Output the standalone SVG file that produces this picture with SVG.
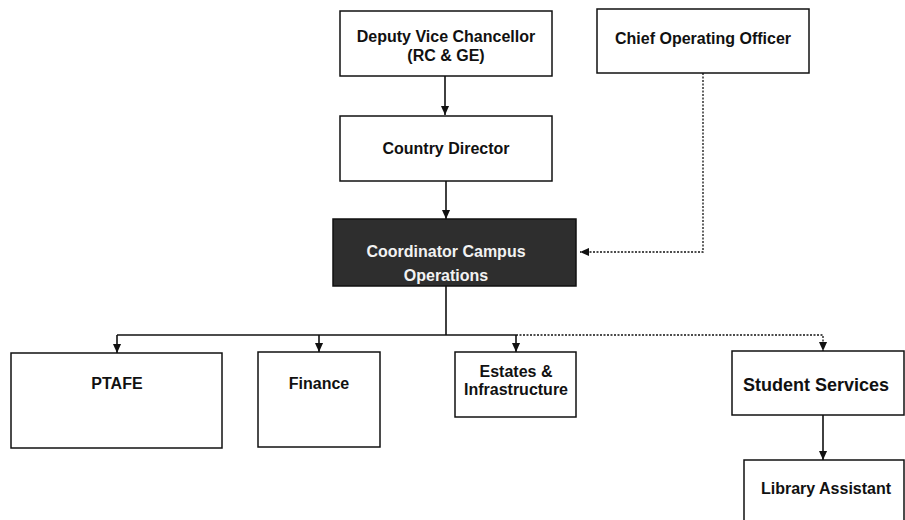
<svg xmlns="http://www.w3.org/2000/svg" width="905" height="520" viewBox="0 0 905 520">
<style>
.box{fill:#fff;stroke:#111;stroke-width:1.5}
.dark{fill:#2e2e2e;stroke:#111;stroke-width:1.5}
.t{font-family:"Liberation Sans",Arial,sans-serif;font-weight:bold;font-size:16px;fill:#111;text-anchor:middle;dominant-baseline:central}
.tw{fill:#f2f2f2}
.big{font-size:18px}
.solid{fill:none;stroke:#111;stroke-width:1.6}
.dot{fill:none;stroke:#111;stroke-width:1.3;stroke-dasharray:2 1.5}
</style>
<defs>
<marker id="ah" viewBox="0 0 10 10" refX="10" refY="5" markerWidth="9" markerHeight="9" orient="auto" markerUnits="userSpaceOnUse">
<path d="M0,0.5 L10,5 L0,9.5 z" fill="#111"/>
</marker>
</defs>
<rect width="905" height="520" fill="#fff"/>
<g id="connectors">
<path class="solid" d="M445,76 V115" marker-end="url(#ah)"/>
<path class="solid" d="M446,181 V219" marker-end="url(#ah)"/>
<path class="dot" d="M703,73 V252 H580" marker-end="url(#ah)"/>
<path class="solid" d="M446,286 V335"/>
<path class="solid" d="M117,335 H516"/>
<path class="solid" d="M117,335 V353" marker-end="url(#ah)"/>
<path class="solid" d="M319,335 V352" marker-end="url(#ah)"/>
<path class="solid" d="M516,335 V352" marker-end="url(#ah)"/>
<path class="dot" d="M516,335 H823 V351" marker-end="url(#ah)"/>
<path class="solid" d="M823,415 V460" marker-end="url(#ah)"/>
</g>
<g id="dvc">
<rect class="box" x="340" y="11" width="212" height="65"/>
<text class="t" x="446" y="36">Deputy Vice Chancellor</text>
<text class="t" x="446" y="55">(RC &amp; GE)</text>
</g>
<g id="coo">
<rect class="box" x="597" y="9" width="212" height="64"/>
<text class="t" x="703" y="38">Chief Operating Officer</text>
</g>
<g id="country">
<rect class="box" x="340" y="116" width="212" height="65"/>
<text class="t" x="446" y="148">Country Director</text>
</g>
<g id="coordinator">
<rect class="dark" x="333" y="219" width="243" height="67"/>
<text class="t tw" x="446" y="251">Coordinator Campus</text>
<text class="t tw" x="446" y="275">Operations</text>
</g>
<g id="ptafe">
<rect class="box" x="11" y="353" width="211" height="95"/>
<text class="t" x="117" y="383">PTAFE</text>
</g>
<g id="finance">
<rect class="box" x="258" y="352" width="122" height="95"/>
<text class="t" x="319" y="383">Finance</text>
</g>
<g id="estates">
<rect class="box" x="455" y="352" width="121" height="65"/>
<text class="t" x="516" y="371">Estates &amp;</text>
<text class="t" x="516" y="389">Infrastructure</text>
</g>
<g id="student">
<rect class="box" x="732" y="351" width="172" height="64"/>
<text class="t big" x="816" y="385">Student Services</text>
</g>
<g id="library">
<rect class="box" x="744" y="460" width="160" height="62"/>
<text class="t" x="826" y="488">Library Assistant</text>
</g>
</svg>
